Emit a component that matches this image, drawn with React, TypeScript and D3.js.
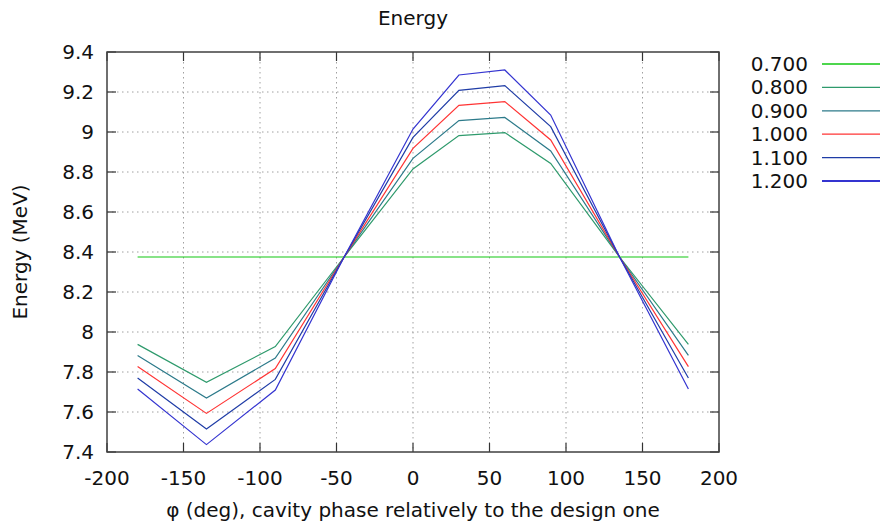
import React from "react";
import * as d3 from "d3";

const phases = [-180, -135, -90, -45, 0, 30, 60, 90, 135, 180];
const seriesLabels = ["0.700", "0.800", "0.900", "1.000", "1.100", "1.200"];
const e070 = [8.375, 8.375, 8.375, 8.375, 8.375, 8.375, 8.375, 8.375, 8.375, 8.375];
const e080 = [7.938, 7.748, 7.927, 8.375, 8.815, 8.982, 8.997, 8.843, 8.375, 7.938];
const e090 = [7.883, 7.670, 7.870, 8.375, 8.868, 9.057, 9.073, 8.905, 8.375, 7.883];
const e100 = [7.827, 7.593, 7.817, 8.375, 8.918, 9.133, 9.152, 8.960, 8.375, 7.827];
const e110 = [7.770, 7.515, 7.763, 8.375, 8.973, 9.208, 9.232, 9.027, 8.375, 7.770];
const e120 = [7.715, 7.437, 7.710, 8.375, 9.015, 9.285, 9.310, 9.085, 8.375, 7.715];
const seriesValues = [e070, e080, e090, e100, e110, e120];
const colors = ["#12c812", "#2e9a6c", "#2c7a8a", "#ff3434", "#1f3ca6", "#3434d0"];
const xTicks = [-200, -150, -100, -50, 0, 50, 100, 150, 200];
const yTicks = [7.4, 7.6, 7.8, 8, 8.2, 8.4, 8.6, 8.8, 9, 9.2, 9.4];

const W = 881, H = 525;
const L = 107, R = 719, T = 52, B = 452;
const FONT = "'DejaVu Sans', sans-serif";
const FS = 20;

export default function App() {
  const x = d3.scaleLinear().domain([-200, 200]).range([L, R]);
  const y = d3.scaleLinear().domain([7.4, 9.4]).range([B, T]);
  const line = d3.line<[number, number]>().x(d => x(d[0])).y(d => y(d[1]));
  const fmtY = (v: number) => d3.format("")(+v.toFixed(1));
  return (
    <svg width={W} height={H} style={{ position: "fixed", left: 0, top: 0, background: "#fff" }} fontFamily={FONT}>
      {xTicks.slice(1, -1).map(t => (
        <line key={"gx" + t} x1={x(t)} x2={x(t)} y1={T} y2={B} stroke="#a0a0a0" strokeWidth={1} strokeDasharray="1.5,3.5" />
      ))}
      {yTicks.slice(1, -1).map(t => (
        <line key={"gy" + t} x1={L} x2={R} y1={y(t)} y2={y(t)} stroke="#a0a0a0" strokeWidth={1} strokeDasharray="1.5,3.5" />
      ))}
      {xTicks.map(t => (
        <g key={"tx" + t}>
          <line x1={x(t)} x2={x(t)} y1={B} y2={B - 9} stroke="#333" strokeWidth={1.2} />
          <line x1={x(t)} x2={x(t)} y1={T} y2={T + 9} stroke="#333" strokeWidth={1.2} />
          <text x={x(t)} y={B + 33} textAnchor="middle" fontSize={FS} fill="#111">{t}</text>
        </g>
      ))}
      {yTicks.map(t => (
        <g key={"ty" + t}>
          <line x1={L} x2={L + 9} y1={y(t)} y2={y(t)} stroke="#333" strokeWidth={1.2} />
          <line x1={R} x2={R - 9} y1={y(t)} y2={y(t)} stroke="#333" strokeWidth={1.2} />
          <text x={94} y={y(t) + 7} textAnchor="end" fontSize={FS} fill="#111">{fmtY(t)}</text>
        </g>
      ))}
      {seriesValues.map((vals, i) => (
        <path key={"s" + i} d={line(phases.map((p, j) => [p, vals[j]] as [number, number])) || ""}
          fill="none" stroke={colors[i]} strokeWidth={1.2} />
      ))}
      <rect x={L} y={T} width={R - L} height={B - T} fill="none" stroke="#404040" strokeWidth={1.5} />
      {seriesLabels.map((s, i) => (
        <g key={"lg" + i}>
          <text x={808} y={71 + i * 23.4} textAnchor="end" fontSize={FS} fill="#111">{s}</text>
          <line x1={822} x2={880} y1={64 + i * 23.4} y2={64 + i * 23.4} stroke={colors[i]} strokeWidth={i === 5 ? 2 : 1.3} />
        </g>
      ))}
      <text x={413} y={25} textAnchor="middle" fontSize={FS} fill="#111">Energy</text>
      <text x={413} y={517} textAnchor="middle" fontSize={FS} fill="#111">φ (deg), cavity phase relatively to the design one</text>
      <text transform={`translate(27,${(T + B) / 2}) rotate(-90)`} textAnchor="middle" fontSize={FS} fill="#111">Energy (MeV)</text>
    </svg>
  );
}
